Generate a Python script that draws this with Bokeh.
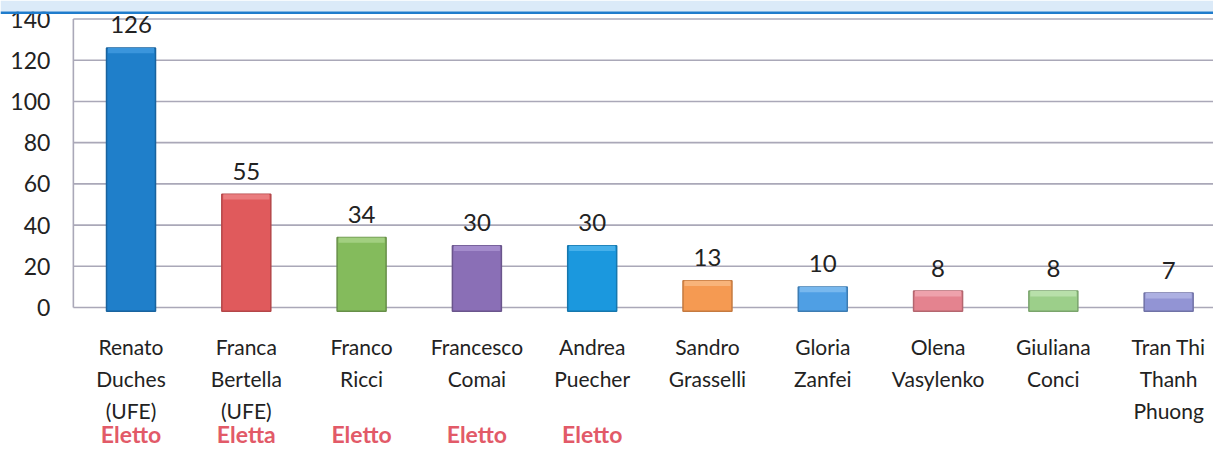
from bokeh.plotting import figure
from bokeh.models import ColumnDataSource, Range1d, Span, BoxAnnotation
from bokeh.core.properties import value
from bokeh.embed import file_html
from bokeh.resources import INLINE

# ---- data ----
names_line1 = ["Renato", "Franca", "Franco", "Francesco", "Andrea", "Sandro", "Gloria", "Olena", "Giuliana", "Tran Thi"]
names_line2 = ["Duches", "Bertella", "Ricci", "Comai", "Puecher", "Grasselli", "Zanfei", "Vasylenko", "Conci", "Thanh"]
names_line3 = ["(UFE)", "(UFE)", "", "", "", "", "", "", "", "Phuong"]
elected = ["Eletto", "Eletta", "Eletto", "Eletto", "Eletto", "", "", "", "", ""]
votes = [126, 55, 34, 30, 30, 13, 10, 8, 8, 7]
y_ticks = [0, 20, 40, 60, 80, 100, 120, 140]

bar_colors = ["#1f7fca", "#e05a5c", "#84bb5c", "#8a6fb6", "#1b98de",
              "#f59a52", "#4f9fe4", "#e4838f", "#9ccf8a", "#9294d4"]
edge_colors = ["#19639e", "#b44648", "#678f48", "#6a558c", "#1677ad",
               "#c57a40", "#3d7cb2", "#b4666f", "#7aa46c", "#7072a6"]
top_colors = ["#3a95dc", "#ea7c7e", "#a2cf80", "#a48ccc", "#46b0ea",
              "#f8b47a", "#78b8ee", "#eea2ac", "#b8e0aa", "#adb0e2"]

FONT = value("Lato")
W, H = 1213, 450
X_START, X_END = -1.132, 9.389
Y_START, Y_END = -69.4, 149.0
AXIS_X = -0.5

x = list(range(len(votes)))
src = ColumnDataSource(dict(
    x=x, votes=votes, color=bar_colors, edge=edge_colors, topc=top_colors,
    hl=[v - 2.6 for v in votes],
    n1=names_line1, n2=names_line2, n3=names_line3, el=elected,
    lbl=[str(v) for v in votes],
))
tsrc = ColumnDataSource(dict(t=y_ticks, lbl=[str(t) for t in y_ticks]))

p = figure(width=W, height=H, output_backend="svg", toolbar_location=None,
           x_range=Range1d(X_START, X_END), y_range=Range1d(Y_START, Y_END),
           min_border=0, min_border_left=0, min_border_right=0,
           min_border_top=0, min_border_bottom=0)
p.outline_line_color = None
p.background_fill_color = "white"
p.border_fill_color = "white"
p.xaxis.visible = False
p.yaxis.visible = False
p.xgrid.visible = False
p.ygrid.visible = False

GRID = "#aaa8b8"
# gridlines and vertical axis line
p.segment(x0=AXIS_X, x1=X_END, y0="t", y1="t", source=tsrc, line_color=GRID, line_width=1.6)
p.segment(x0=[AXIS_X], x1=[AXIS_X], y0=[min(y_ticks)], y1=[max(y_ticks)], line_color=GRID, line_width=1.6)

# y tick labels
p.text(x=AXIS_X, y="t", text="lbl", source=tsrc, x_offset=-23, text_align="right",
       text_baseline="middle", text_font=FONT, text_font_size="23px", text_color="#222222")

# bars with a bevel-like top highlight
p.vbar(x="x", top="votes", bottom=-1.8, width=0.425, source=src,
       fill_color="color", line_color="edge", line_width=1.5)
p.vbar(x="x", top="votes", bottom="hl", width=0.40, source=src,
       fill_color="topc", line_color=None)

common = dict(source=src, text_align="center", text_baseline="middle", text_font=FONT)
p.text(x="x", y="votes", text="lbl", y_offset=-23, text_font_size="24px", text_color="#222222", **common)
p.text(x="x", y=-18.9, text="n1", text_font_size="21px", text_color="#222222", **common)
p.text(x="x", y=-34.6, text="n2", text_font_size="21px", text_color="#222222", **common)
p.text(x="x", y=-49.8, text="n3", text_font_size="21px", text_color="#222222", **common)
p.text(x="x", y=-61.6, text="el", text_font_size="23px", text_font_style="bold",
       text_color="#e25a68", **common)

# top band of the slide
p.add_layout(BoxAnnotation(bottom=143.6, fill_color="#dbeaf8", fill_alpha=1.0, line_color=None))
p.add_layout(Span(location=143.1, dimension="width", line_color="#1f7ccc", line_width=2.5))

open("out.html", "w").write(file_html(p, INLINE))
